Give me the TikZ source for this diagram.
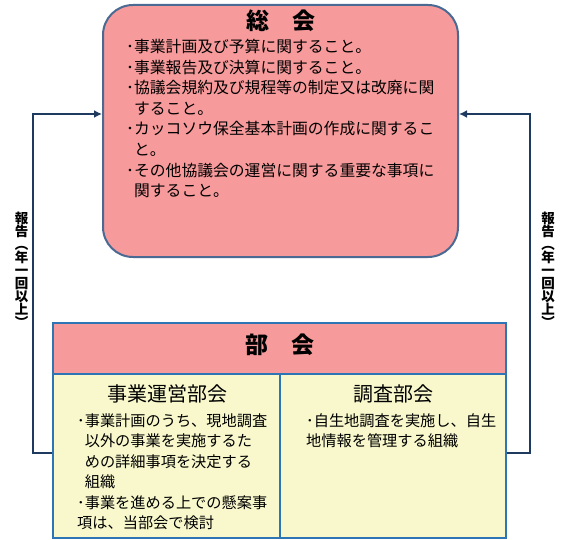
\documentclass[tikz,border=0pt]{standalone}
\usepackage{fontspec}
\setmainfont{Noto Sans CJK JP}
\usetikzlibrary{arrows.meta}
\definecolor{kaipink}{HTML}{F79A9B}
\definecolor{buyellow}{HTML}{F8F8CC}
\definecolor{sokaiedge}{HTML}{4A6A94}
\definecolor{buedge}{HTML}{2E75B6}
\definecolor{report}{HTML}{1F3A5F}

\begin{document}
\begin{tikzpicture}[x=1pt, y=-1pt,
  sokaibox/.style={draw=sokaiedge, line width=2pt, fill=kaipink, rounded corners=30pt, minimum width=355pt, minimum height=252pt, inner sep=0pt},
  bubox/.style={draw=buedge, line width=1.5pt, fill=#1, inner sep=0pt},
  ttl/.style={font=\fontsize{23}{23}\selectfont\bfseries, inner sep=0pt},
  subttl/.style={font=\fontsize{20}{20}\selectfont, inner sep=0pt},
  items/.style={font=\fontsize{#1}{20.5}\selectfont, align=left, anchor=base west, inner sep=0pt},
  reportlab/.style={font=\fontsize{13.5}{13}\selectfont\bfseries, align=center, inner sep=0pt},
  flow/.style={draw=report, line width=2pt, -{Latex[length=8pt,width=8pt]}}]
\useasboundingbox (0,0) rectangle (567,540);

% ---- general assembly (top); item nodes sit on their last baseline
\node[sokaibox] (soukai) at (280.5,131) {};
\node[ttl] (soukaittl) at (281,21) {総　会};
\node[items=15.8] (soukaiitems) at (126,196.5)
  {･事業計画及び予算に関すること。\\
   ･事業報告及び決算に関すること。\\
   ･協議会規約及び規程等の制定又は改廃に関\\
   \phantom{･}すること。\\
   ･カッコソウ保全基本計画の作成に関するこ\\
   \phantom{･}と。\\
   ･その他協議会の運営に関する重要な事項に\\
   \phantom{･}関すること。};

% ---- sections (bottom)
\node[bubox=kaipink, minimum width=453pt, minimum height=51pt] (bukai) at (279.5,348.5) {};
\node[ttl] (bukaittl) at (280,345) {部　会};
\node[bubox=buyellow, minimum width=227pt, minimum height=164pt] (jigyou) at (166.5,456) {};
\node[bubox=buyellow, minimum width=226pt, minimum height=164pt] (chousa) at (393,456) {};
\node[subttl] (jigyouttl) at (167,394) {事業運営部会};
\node[subttl] (chousattl) at (393,394) {調査部会};
\node[items=15.2] (jigyouitems) at (77,528.5)
  {･事業計画のうち、現地調査\\
   \phantom{･}以外の事業を実施するた\\
   \phantom{･}めの詳細事項を決定する\\
   \phantom{･}組織\\
   ･事業を進める上での懸案事\\
   項は、当部会で検討};
\node[items=15.2] (chousaitems) at (306,446.5)
  {･自生地調査を実施し、自生\\
   地情報を管理する組織};

% ---- reports to the assembly
\coordinate (leftrail) at (33,453);
\coordinate (rightrail) at (530,453);
\draw[flow] (jigyou.west |- leftrail) -- (leftrail) |- ([yshift=17pt]soukai.west);
\draw[flow] (chousa.east |- rightrail) -- (rightrail) |- ([yshift=17pt]soukai.east);
\node[reportlab] (leftlab) at (21.5,270) {報\\告\\︵\\年\\一\\回\\以\\上\\︶};
\node[reportlab] (rightlab) at (548,270) {報\\告\\︵\\年\\一\\回\\以\\上\\︶};
\end{tikzpicture}
\end{document}
